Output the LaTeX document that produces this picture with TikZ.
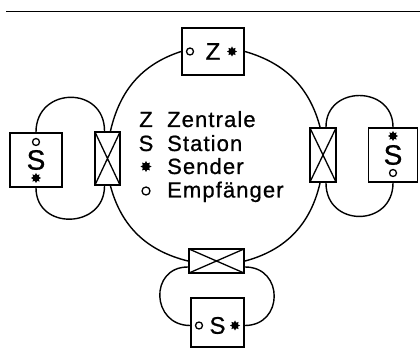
\documentclass[tikz,border=0pt]{standalone}
\usepackage{fontspec}
\setmainfont[LetterSpace=5,FakeBold=0.8]{Liberation Sans}
\usetikzlibrary{shapes.geometric}
\tikzset{
  box/.style={draw, line width=1.8pt, inner sep=0pt},
  koppler/.style={box, line width=2.2pt,
    path picture={\draw[line width=1.3pt] (path picture bounding box.north west) -- (path picture bounding box.south east)
      (path picture bounding box.south west) -- (path picture bounding box.north east);}},
  sender/.style={star, star points=8, star point ratio=1.6, fill, inner sep=0pt, minimum size=10pt},
  empf/.style={circle, draw, line width=1.3pt, inner sep=0pt, minimum size=7pt},
  leitung/.style={line width=1.4pt},
  gross/.style={font=\fontsize{28}{30}\selectfont}
}

\begin{document}
\begin{tikzpicture}[x=1pt,y=1pt,font=\fontsize{22}{24}\selectfont]
\useasboundingbox (0,0) rectangle (420,350);
\draw[line width=1pt] (6,338) -- (420,338);
\node[box, minimum width=62pt, minimum height=47pt, font=\fontsize{24}{26}\selectfont] (z) at (213,298.5) {Z};
\node[empf] (ze) at ([xshift=-23pt]z.center) {};
\node[sender] (zs) at ([xshift=19pt]z.center) {};
\node[box, gross, minimum width=52pt, minimum height=54pt] (sl) at (36,190) {S};
\node[empf] (sle) at ([yshift=18pt]sl.center) {};
\node[sender] (sls) at ([yshift=-18pt]sl.center) {};
\node[box, gross, minimum width=49pt, minimum height=54pt] (sr) at (393,195) {S};
\node[sender] (srs) at ([yshift=19pt]sr.center) {};
\node[empf] (sre) at ([yshift=-18pt]sr.center) {};
\node[box, minimum width=53pt, minimum height=49pt] (su) at (217.5,27.5) {};
\node[font=\fontsize{24}{26}\selectfont] (sut) at ([yshift=-3pt]su.center) {S};
\node[empf] (sue) at ([xshift=-18.5pt,yshift=-3pt]su.center) {};
\node[sender] (sus) at ([xshift=17.5pt,yshift=-3pt]su.center) {};
\node[koppler, minimum width=25pt, minimum height=53pt] (kl) at (107.5,191.5) {};
\node[koppler, minimum width=26pt, minimum height=54pt] (kr) at (323,195) {};
\node[koppler, minimum width=55pt, minimum height=24pt] (ku) at (216.5,89) {};
\draw[leitung] (z.west) to[out=198,in=77] ([xshift=3pt]kl.north);
\draw[leitung] ([xshift=3pt]kl.south) to[out=285,in=166] (ku.west);
\draw[leitung] (ku.east) to[out=15,in=257] ([xshift=-3pt]kr.south);
\draw[leitung] ([xshift=-3pt]kr.north) to[out=105,in=-16] (z.east);
\draw[leitung] (sl.north) to[out=90,in=90,looseness=1.7] ([xshift=-3pt]kl.north);
\draw[leitung] (sl.south) to[out=-90,in=-90,looseness=1.6] ([xshift=-3pt]kl.south);
\draw[leitung] ([xshift=3pt]kr.north) to[out=90,in=90,looseness=1.6] (sr.north);
\draw[leitung] ([xshift=3pt]kr.south) to[out=-90,in=-90,looseness=1.7] (sr.south);
\draw[leitung] ([yshift=-6pt]ku.west) to[out=180,in=180,looseness=1.7] ([yshift=-3pt]su.west);
\draw[leitung] ([yshift=-6pt]ku.east) to[out=0,in=0,looseness=1.7] ([yshift=-3pt]su.east);
\node[anchor=base, inner sep=0pt] (lz) at (146,223) {Z};
\node[anchor=base west, inner sep=0pt] (tz) at (167,223) {Zentrale};
\node[anchor=base, inner sep=0pt] (ls) at (146,199) {S};
\node[anchor=base west, inner sep=0pt] (ts) at (167,199) {Station};
\node[sender, minimum size=11pt] (lse) at (146,183.5) {};
\node[anchor=base west, inner sep=0pt] (tse) at (167,176) {Sender};
\node[empf, minimum size=8pt] (lem) at (146,159) {};
\node[anchor=base west, inner sep=0pt] (tem) at (167,152.5) {Empfänger};
\end{tikzpicture}
\end{document}
